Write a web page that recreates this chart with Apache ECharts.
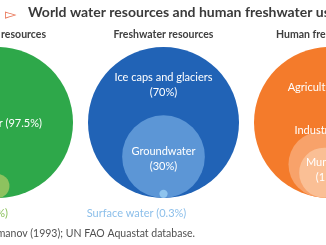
<!DOCTYPE html>
<html><head><meta charset="utf-8">
<script src="https://cdn.jsdelivr.net/npm/echarts@6/dist/echarts.min.js"></script>
<style>html,body{margin:0;padding:0;background:#fff}#c{width:326px;height:245px}</style>
</head><body><div id="c"></div>
<script>
// ---- data ----
const chartTitle = 'World water resources and human freshwater use';
const panelTitles = ['Total water resources', 'Freshwater resources', 'Human freshwater use'];
const totalNames = ['Saltwater', 'Freshwater'];
const totalValues = [97.5, 2.5];
const freshNames = ['Ice caps and glaciers', 'Groundwater', 'Surface water'];
const freshValues = [70, 30, 0.3];
const useNames = ['Agriculture', 'Industry', 'Municipal'];
const useValues = [70, 19, 11];
const sourceText = 'Source: Shiklomanov (1993); UN FAO Aquastat database.';

// ---- layout / style ----
const R = 75.5;                       // radius of the 100% circle (px)
const panelX = [-2.5, 163.5, 329.5];  // panel centres
const panelY = 122.5;
const font = 'Lato, "Open Sans", sans-serif';
const LFS = 11;
function radius(v) { return R * Math.sqrt(v / 100); }
// inner circle touching the outer circle from inside, at angle deg (0 = straight down)
function inner(px, v, deg) {
  const r = radius(v), d = R - r, a = deg * Math.PI / 180;
  return [px + d * Math.sin(a), panelY + d * Math.cos(a)];
}
function pct(v) { return '(' + v + '%)'; }

const whiteLab = (text, offset) => ({ show: true, position: 'inside', formatter: text, offset: offset,
  color: '#fff', fontFamily: font, fontSize: LFS, lineHeight: 15, align: 'center' });

const data = [];
// total water
data.push({ value: [panelX[0], panelY, 100], itemStyle: { color: '#2EA84A' },
  label: whiteLab(totalNames[0] + ' ' + pct(totalValues[0]), [2, 1]) });
(function () { const c = inner(panelX[0], totalValues[1], 0);
  data.push({ value: [c[0], c[1], totalValues[1]], itemStyle: { color: '#8DC25F' },
    label: { show: true, position: 'inside', formatter: totalNames[1] + ' ' + pct(totalValues[1]),
      color: '#8DC25F', fontFamily: font, fontSize: LFS, align: 'right', offset: [10.5, 213 - c[1]] } }); })();
// freshwater
data.push({ value: [panelX[1], panelY, 100], itemStyle: { color: '#2163B6' },
  label: whiteLab(freshNames[0] + '\n' + pct(freshValues[0]), [0, 85 - panelY]) });
(function () { const c = inner(panelX[1], freshValues[1], 0);
  data.push({ value: [c[0], c[1], freshValues[1]], itemStyle: { color: '#5C96D6' },
    label: whiteLab(freshNames[1] + '\n' + pct(freshValues[1]), [0, 159 - c[1]]) }); })();
(function () { const c = inner(panelX[1], freshValues[2], 0);
  data.push({ value: [c[0], c[1], freshValues[2]], itemStyle: { color: '#8EC4EE' },
    label: { show: true, position: 'inside', formatter: freshNames[2] + ' ' + pct(freshValues[2]),
      color: '#8CBFEA', fontFamily: font, fontSize: LFS, align: 'center', offset: [136.5 - c[0], 213 - c[1]] } }); })();
// human use
data.push({ value: [panelX[2], panelY, 100], itemStyle: { color: '#F47B2B' },
  label: whiteLab(useNames[0] + ' ' + pct(useValues[0]), [0, 87 - panelY]) });
(function () { const c = inner(panelX[2], useValues[1], -11);
  data.push({ value: [c[0], c[1], useValues[1]], itemStyle: { color: '#F8A26A' },
    label: whiteLab(useNames[1] + ' ' + pct(useValues[1]), [329.5 - c[0], 130 - c[1]]) }); })();
(function () { const c = inner(panelX[2], useValues[2], -6);
  data.push({ value: [c[0], c[1], useValues[2]], itemStyle: { color: '#FABF95' },
    label: whiteLab(useNames[2] + '\n' + pct(useValues[2]), [329.5 - c[0], 170 - c[1]]) }); })();

const chart = echarts.init(document.getElementById('c'), null, { renderer: 'canvas' });
chart.setOption({
  animation: false,
  graphic: [
    { type: 'text', x: 5, y: 15, style: { text: '▻', fill: '#E9785A', font: '15px "DejaVu Sans"', textVerticalAlign: 'middle' } },
    { type: 'text', x: 28, y: 12, style: { text: chartTitle, fill: '#3A3A3A', font: 'bold 14px ' + font, textVerticalAlign: 'middle' } },
    { type: 'text', x: 46, y: 35, style: { text: panelTitles[0], fill: '#404040', font: 'bold 10.5px ' + font, textAlign: 'right', textVerticalAlign: 'middle' } },
    { type: 'text', x: panelX[1], y: 35, style: { text: panelTitles[1], fill: '#404040', font: 'bold 10.5px ' + font, textAlign: 'center', textVerticalAlign: 'middle' } },
    { type: 'text', x: 276, y: 35, style: { text: panelTitles[2], fill: '#404040', font: 'bold 10.5px ' + font, textAlign: 'left', textVerticalAlign: 'middle' } },
    { type: 'text', x: 195, y: 234, style: { text: sourceText, fill: '#505050', font: '10.5px ' + font, textAlign: 'right', textVerticalAlign: 'middle' } }
  ],
  grid: { left: 0, right: 0, top: 0, bottom: 0 },
  xAxis: { type: 'value', min: 0, max: 326, show: false },
  yAxis: { type: 'value', min: 0, max: 245, inverse: true, show: false },
  series: [{
    type: 'scatter', clip: false, symbol: 'circle',
    symbolSize: v => 2 * radius(v[2]),
    itemStyle: { opacity: 1 },
    emphasis: { disabled: true },
    data: data
  }]
});
</script></body></html>
